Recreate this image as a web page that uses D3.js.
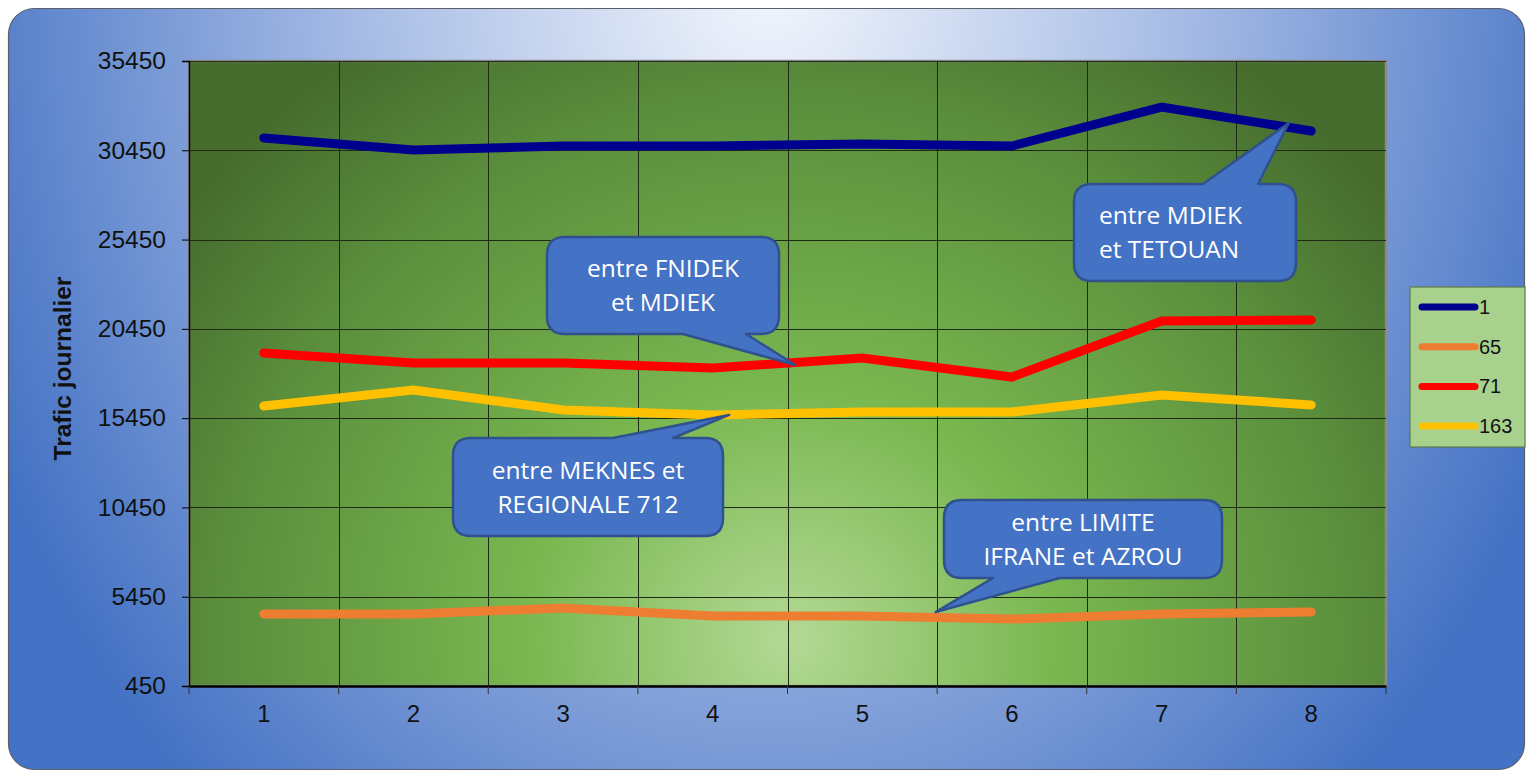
<!DOCTYPE html>
<html><head><meta charset="utf-8">
<script src="https://cdn.jsdelivr.net/npm/d3@7"></script>
<style>html,body{margin:0;padding:0;background:#fff;}svg{display:block;}</style>
</head><body>
<svg id="c" width="1526" height="771"></svg>
<script>
// ---- data ----
const categories = [1, 2, 3, 4, 5, 6, 7, 8];
const seriesNames = ["1", "65", "71", "163"];
const route1   = [31140, 30470, 30690, 30690, 30800, 30690, 32870, 31530];
const route65  = [4480, 4480, 4820, 4370, 4370, 4200, 4480, 4590];
const route71  = [19100, 18540, 18540, 18260, 18820, 17750, 20890, 20950];
const route163 = [16130, 17030, 15910, 15630, 15800, 15790, 16750, 16190];
const yTicks = [450, 5450, 10450, 15450, 20450, 25450, 30450, 35450];
const yTitle = "Trafic journalier";
// callouts: text lines and tip in data units
const calloutTexts = [
  ["entre FNIDEK", "et MDIEK"],
  ["entre MEKNES et", "REGIONALE 712"],
  ["entre LIMITE", "IFRANE et AZROU"],
  ["entre MDIEK", "et TETOUAN"]
];
const calloutTipX = [4.55, 4.11, 5.49, 7.85];
const calloutTipY = [18430, 15630, 4590, 31980];

const colors = ["#00008E", "#ED7D31", "#FF0000", "#FFC000"];
const seriesValues = [route1, route65, route71, route163];

// ---- layout ----
const svg = d3.select("#c");
const plot = {x0: 189, x1: 1386, y0: 61, y1: 686};

const defs = svg.append("defs");
const bg = defs.append("radialGradient").attr("id", "bg")
  .attr("gradientUnits", "userSpaceOnUse")
  .attr("cx", 770).attr("cy", -40).attr("r", 860)
  .attr("gradientTransform", "translate(770,-40) scale(1,1.3) translate(-770,40)");
bg.append("stop").attr("offset", 0).attr("stop-color", "#f4f7fd");
bg.append("stop").attr("offset", 0.5).attr("stop-color", "#a3b9e4");
bg.append("stop").attr("offset", 1).attr("stop-color", "#4472c4");

const pg = defs.append("radialGradient").attr("id", "pg")
  .attr("gradientUnits", "userSpaceOnUse")
  .attr("cx", 790).attr("cy", 640).attr("r", 760)
  .attr("gradientTransform", "translate(790,640) scale(1,0.95) translate(-790,-640)");
pg.append("stop").attr("offset", 0).attr("stop-color", "#b3d995");
pg.append("stop").attr("offset", 0.35).attr("stop-color", "#79b74f");
pg.append("stop").attr("offset", 0.75).attr("stop-color", "#5a8e3c");
pg.append("stop").attr("offset", 1).attr("stop-color", "#456b2d");

// outer frame
svg.append("rect").attr("x", 8.5).attr("y", 8.5).attr("width", 1516).attr("height", 761)
  .attr("rx", 26).attr("ry", 26)
  .attr("fill", "url(#bg)").attr("stroke", "#5a5f6a").attr("stroke-width", 1.2);

// plot area
svg.append("rect").attr("x", plot.x0).attr("y", plot.y0)
  .attr("width", plot.x1 - plot.x0).attr("height", plot.y1 - plot.y0)
  .attr("fill", "url(#pg)").attr("stroke", "#8a8a8a").attr("stroke-width", 2.5);

const xBand = d3.scaleBand().domain(categories).range([plot.x0, plot.x1]).padding(0);
const x = d => xBand(d) + xBand.bandwidth() / 2;
const xLin = d3.scaleLinear().domain([1, 8]).range([x(1), x(8)]);
const y = d3.scaleLinear().domain([450, 35450]).range([plot.y1, plot.y0]);

// grid
const grid = svg.append("g");
grid.selectAll("line.h").data(yTicks.slice(1)).join("line")
  .attr("x1", plot.x0).attr("x2", plot.x1)
  .attr("y1", d => Math.round(y(d)) + 0.5).attr("y2", d => Math.round(y(d)) + 0.5)
  .attr("stroke", "#1e2a14").attr("stroke-width", 1);
grid.selectAll("line.v").data(categories.slice(1)).join("line")
  .attr("x1", d => Math.round(xBand(d)) + 0.5).attr("x2", d => Math.round(xBand(d)) + 0.5)
  .attr("y1", plot.y0).attr("y2", plot.y1)
  .attr("stroke", "#1e2a14").attr("stroke-width", 1);

// axes
const yAxis = d3.axisLeft(y).tickValues(yTicks).tickFormat(d3.format("d")).tickSize(7).tickPadding(16);
const gy = svg.append("g").attr("transform", `translate(${plot.x0},0)`).call(yAxis);
gy.select(".domain").attr("stroke", "#000").attr("stroke-width", 1.5);
gy.selectAll(".tick line").attr("stroke", "#000");
gy.selectAll("text").attr("font-family", "Liberation Sans, Arial, sans-serif")
  .attr("font-size", 24.5).attr("fill", "#111");

const xAxis = d3.axisBottom(xBand).tickSize(0).tickPadding(20);
const gx = svg.append("g").attr("transform", `translate(0,${plot.y1})`).call(xAxis);
gx.select(".domain").attr("stroke", "#000").attr("stroke-width", 2.5);
gx.selectAll("text").attr("font-family", "Liberation Sans, Arial, sans-serif")
  .attr("font-size", 24).attr("fill", "#111").attr("dy", "0.65em");
gx.selectAll("line.bt").data(categories.concat([null])).join("line")
  .attr("class", "bt")
  .attr("x1", (d, i) => i < categories.length ? xBand(d) : plot.x1)
  .attr("x2", (d, i) => i < categories.length ? xBand(d) : plot.x1)
  .attr("y1", 0).attr("y2", 8).attr("stroke", "#333").attr("stroke-width", 1);

// y title
svg.append("text").attr("transform", `translate(71,${(plot.y0 + plot.y1) / 2 - 5}) rotate(-90)`)
  .attr("text-anchor", "middle")
  .attr("font-family", "Liberation Sans, Arial, sans-serif")
  .attr("font-weight", "bold").attr("font-size", 24.5).attr("fill", "#111")
  .text(yTitle);

// lines
const line = d3.line().x((d, i) => x(categories[i])).y(d => y(d));
svg.append("g").selectAll("path").data(seriesValues).join("path")
  .attr("d", d => line(d)).attr("fill", "none")
  .attr("stroke", (d, i) => colors[i]).attr("stroke-width", 9)
  .attr("stroke-linecap", "round").attr("stroke-linejoin", "miter");

// callouts
const boxes = [
  {x: 547, y: 237, w: 232, h: 97, side: "bottom", b0: 683, b1: 746, anchor: "middle"},
  {x: 453, y: 438, w: 270, h: 98, side: "top", b0: 613, b1: 673, anchor: "middle"},
  {x: 944, y: 500, w: 278, h: 78, side: "bottom", b0: 993, b1: 1060, anchor: "middle"},
  {x: 1074, y: 184, w: 222, h: 97, side: "top", b0: 1203, b1: 1258, anchor: "start"}
];
function calloutPath(b, tx, ty) {
  const r = 18, x0 = b.x, y0 = b.y, x1 = b.x + b.w, y1 = b.y + b.h;
  let p = `M${x0 + r},${y0}`;
  if (b.side === "top") p += `L${b.b0},${y0}L${tx},${ty}L${b.b1},${y0}`;
  p += `L${x1 - r},${y0}Q${x1},${y0} ${x1},${y0 + r}L${x1},${y1 - r}Q${x1},${y1} ${x1 - r},${y1}`;
  if (b.side === "bottom") p += `L${b.b1},${y1}L${tx},${ty}L${b.b0},${y1}`;
  p += `L${x0 + r},${y1}Q${x0},${y1} ${x0},${y1 - r}L${x0},${y0 + r}Q${x0},${y0} ${x0 + r},${y0}Z`;
  return p;
}
const cg = svg.append("g");
boxes.forEach((b, i) => {
  const tx = xLin(calloutTipX[i]), ty = y(calloutTipY[i]);
  cg.append("path").attr("d", calloutPath(b, tx, ty))
    .attr("fill", "#4472C4").attr("stroke", "#2F528F").attr("stroke-width", 2.5)
    .attr("stroke-linejoin", "round");
  const lines = calloutTexts[i];
  const cx = b.anchor === "middle" ? b.x + b.w / 2 : b.x + 25;
  const cy = b.y + b.h / 2;
  lines.forEach((t, j) => {
    cg.append("text").attr("x", cx).attr("y", cy + (j - (lines.length - 1) / 2) * 34)
      .attr("dy", "0.35em").attr("text-anchor", b.anchor)
      .attr("font-family", "Open Sans, Noto Sans, sans-serif").attr("font-size", 24.5)
      .attr("fill", "#fff").text(t);
  });
});

// legend
const lg = svg.append("g");
lg.append("rect").attr("x", 1410).attr("y", 287).attr("width", 115).attr("height", 160)
  .attr("fill", "#a9d18e").attr("stroke", "#5d7a4a").attr("stroke-width", 1.2);
seriesNames.forEach((n, i) => {
  const yy = 307 + i * 39.7;
  lg.append("line").attr("x1", 1422).attr("x2", 1475).attr("y1", yy).attr("y2", yy)
    .attr("stroke", colors[i]).attr("stroke-width", 7).attr("stroke-linecap", "round");
  lg.append("text").attr("x", 1479).attr("y", yy).attr("dy", "0.35em")
    .attr("font-family", "Liberation Sans, Arial, sans-serif").attr("font-size", 20)
    .attr("fill", "#111").text(n);
});
</script>
</body></html>
